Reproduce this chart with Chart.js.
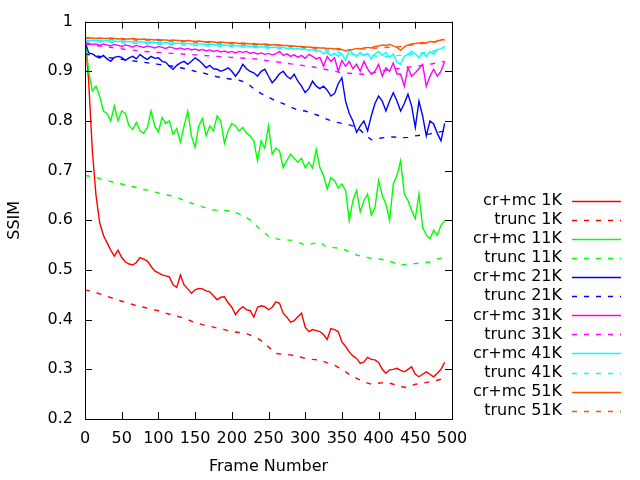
<!DOCTYPE html>
<html>
<head>
<meta charset="utf-8">
<script src="https://cdn.jsdelivr.net/npm/chart.js@4.4.1/dist/chart.umd.min.js"></script>
<style>
  html, body { margin: 0; padding: 0; background: #fff; }
  #wrap { width: 640px; height: 480px; }
</style>
</head>
<body>
<div id="wrap"><canvas id="ssim-chart" width="640" height="480"></canvas></div>
<script>
// frame numbers: cr+mc curves read every 5 frames, trunc curves every 10
const frames = [0,5,10,15,20,25,30,35,40,45,50,55,60,65,70,75,80,85,90,95,100,105,110,115,120,125,130,135,140,145,150,155,160,165,170,175,180,185,190,195,200,205,210,215,220,225,230,235,240,245,250,255,260,265,270,275,280,285,290,295,300,305,310,315,320,325,330,335,340,345,350,355,360,365,370,375,380,385,390,395,400,405,410,415,420,425,430,435,440,445,450,455,460,465,470,475,480,485,490];
const framesTrunc = [0,10,20,30,40,50,60,70,80,90,100,110,120,130,140,150,160,170,180,190,200,210,220,230,240,250,260,270,280,290,300,310,320,330,340,350,360,370,380,390,400,410,420,430,440,450,460,470,480,490];

const crmc1K = [0.97,0.88,0.74,0.65,0.595,0.57,0.555,0.54,0.528,0.54,0.525,0.516,0.512,0.51,0.515,0.525,0.522,0.518,0.507,0.498,0.494,0.49,0.488,0.486,0.47,0.465,0.49,0.47,0.462,0.453,0.46,0.463,0.462,0.458,0.456,0.448,0.44,0.445,0.446,0.434,0.425,0.41,0.42,0.426,0.42,0.418,0.405,0.425,0.428,0.426,0.42,0.425,0.436,0.433,0.413,0.405,0.395,0.398,0.406,0.413,0.385,0.376,0.38,0.378,0.376,0.37,0.36,0.382,0.38,0.376,0.355,0.346,0.335,0.327,0.322,0.312,0.315,0.324,0.32,0.319,0.314,0.3,0.292,0.299,0.3,0.302,0.298,0.295,0.3,0.305,0.29,0.285,0.29,0.295,0.29,0.285,0.292,0.3,0.314];
const trunc1K = [0.46,0.457,0.452,0.447,0.442,0.437,0.433,0.428,0.425,0.421,0.418,0.413,0.409,0.405,0.4,0.394,0.39,0.387,0.383,0.38,0.376,0.374,0.372,0.366,0.358,0.345,0.332,0.33,0.329,0.326,0.322,0.32,0.319,0.313,0.308,0.3,0.29,0.282,0.275,0.27,0.272,0.274,0.27,0.265,0.263,0.27,0.272,0.275,0.278,0.282];

const crmc11K = [0.97,0.9,0.86,0.87,0.85,0.82,0.815,0.8,0.83,0.8,0.82,0.815,0.79,0.783,0.797,0.78,0.775,0.787,0.82,0.79,0.778,0.807,0.795,0.8,0.773,0.785,0.757,0.79,0.82,0.77,0.747,0.79,0.805,0.77,0.79,0.78,0.81,0.8,0.755,0.78,0.795,0.79,0.78,0.787,0.775,0.77,0.76,0.72,0.76,0.745,0.79,0.733,0.745,0.74,0.706,0.72,0.733,0.725,0.717,0.725,0.706,0.717,0.705,0.743,0.706,0.69,0.663,0.686,0.68,0.665,0.673,0.66,0.6,0.64,0.66,0.617,0.64,0.653,0.61,0.625,0.68,0.65,0.633,0.6,0.673,0.69,0.72,0.653,0.64,0.62,0.603,0.653,0.586,0.57,0.563,0.58,0.57,0.59,0.6];
const trunc11K = [0.69,0.688,0.684,0.68,0.676,0.673,0.67,0.666,0.662,0.659,0.655,0.652,0.648,0.643,0.637,0.632,0.627,0.622,0.62,0.62,0.618,0.613,0.606,0.595,0.58,0.568,0.563,0.56,0.56,0.556,0.55,0.553,0.556,0.545,0.545,0.543,0.537,0.53,0.527,0.523,0.522,0.52,0.515,0.51,0.512,0.513,0.515,0.516,0.522,0.526];

const crmc21K = [0.96,0.937,0.935,0.93,0.927,0.932,0.925,0.92,0.928,0.93,0.928,0.922,0.927,0.93,0.925,0.934,0.928,0.924,0.93,0.926,0.927,0.92,0.918,0.91,0.904,0.912,0.917,0.92,0.914,0.92,0.927,0.922,0.915,0.907,0.912,0.905,0.904,0.9,0.903,0.907,0.9,0.89,0.9,0.914,0.905,0.9,0.897,0.89,0.9,0.904,0.89,0.877,0.885,0.895,0.9,0.89,0.885,0.894,0.88,0.87,0.857,0.865,0.88,0.87,0.865,0.87,0.862,0.85,0.855,0.875,0.887,0.84,0.815,0.8,0.777,0.79,0.8,0.78,0.81,0.835,0.85,0.84,0.82,0.84,0.857,0.84,0.82,0.835,0.854,0.83,0.787,0.84,0.81,0.77,0.8,0.794,0.775,0.76,0.795];
const trunc21K = [0.935,0.932,0.93,0.928,0.926,0.924,0.922,0.92,0.918,0.916,0.914,0.912,0.91,0.907,0.904,0.9,0.897,0.893,0.889,0.886,0.884,0.882,0.877,0.865,0.855,0.848,0.84,0.835,0.828,0.822,0.82,0.815,0.81,0.803,0.798,0.795,0.792,0.788,0.775,0.762,0.765,0.767,0.768,0.766,0.767,0.77,0.772,0.774,0.777,0.78];

const crmc31K = [0.958,0.956,0.954,0.955,0.952,0.955,0.953,0.951,0.954,0.952,0.95,0.953,0.951,0.949,0.952,0.95,0.948,0.951,0.949,0.947,0.95,0.948,0.946,0.949,0.947,0.945,0.947,0.944,0.946,0.943,0.945,0.942,0.944,0.941,0.943,0.94,0.942,0.939,0.941,0.938,0.94,0.937,0.94,0.938,0.94,0.936,0.938,0.935,0.937,0.934,0.936,0.933,0.935,0.94,0.932,0.935,0.93,0.933,0.928,0.932,0.926,0.934,0.93,0.925,0.928,0.91,0.93,0.92,0.927,0.9,0.922,0.91,0.92,0.905,0.914,0.9,0.92,0.905,0.894,0.9,0.914,0.89,0.907,0.9,0.917,0.895,0.894,0.87,0.907,0.89,0.897,0.905,0.914,0.87,0.89,0.904,0.89,0.9,0.92];
const trunc31K = [0.955,0.953,0.951,0.949,0.947,0.945,0.943,0.942,0.94,0.939,0.938,0.937,0.936,0.935,0.934,0.933,0.932,0.931,0.93,0.929,0.928,0.927,0.926,0.925,0.923,0.921,0.919,0.917,0.915,0.913,0.911,0.909,0.906,0.903,0.9,0.897,0.896,0.895,0.894,0.896,0.899,0.902,0.904,0.906,0.908,0.91,0.912,0.914,0.917,0.92];

const crmc41K = [0.963,0.962,0.963,0.962,0.962,0.961,0.962,0.961,0.961,0.96,0.961,0.96,0.96,0.959,0.96,0.959,0.959,0.958,0.959,0.958,0.958,0.957,0.958,0.957,0.957,0.956,0.957,0.956,0.956,0.955,0.956,0.955,0.955,0.954,0.955,0.954,0.953,0.954,0.953,0.952,0.953,0.952,0.951,0.952,0.951,0.95,0.951,0.95,0.949,0.95,0.949,0.948,0.949,0.947,0.948,0.946,0.947,0.945,0.946,0.944,0.945,0.942,0.944,0.94,0.942,0.935,0.938,0.932,0.936,0.93,0.935,0.922,0.944,0.935,0.93,0.938,0.932,0.936,0.925,0.935,0.94,0.932,0.938,0.928,0.935,0.918,0.914,0.93,0.934,0.94,0.935,0.927,0.937,0.93,0.94,0.934,0.944,0.945,0.95];
const trunc41K = [0.96,0.96,0.959,0.958,0.958,0.957,0.957,0.956,0.956,0.955,0.955,0.954,0.954,0.953,0.953,0.952,0.952,0.951,0.951,0.95,0.95,0.949,0.949,0.948,0.948,0.947,0.947,0.946,0.946,0.945,0.945,0.944,0.943,0.941,0.939,0.937,0.935,0.934,0.933,0.932,0.93,0.93,0.931,0.932,0.933,0.935,0.937,0.939,0.942,0.945];

const crmc51K = [0.968,0.967,0.967,0.966,0.967,0.966,0.966,0.967,0.966,0.965,0.966,0.965,0.965,0.966,0.965,0.964,0.965,0.964,0.964,0.963,0.964,0.963,0.963,0.962,0.963,0.962,0.962,0.961,0.962,0.961,0.96,0.961,0.96,0.959,0.96,0.959,0.958,0.959,0.958,0.957,0.958,0.957,0.956,0.957,0.956,0.955,0.956,0.955,0.954,0.955,0.954,0.953,0.954,0.953,0.952,0.952,0.951,0.951,0.95,0.95,0.949,0.949,0.948,0.948,0.947,0.947,0.946,0.946,0.945,0.946,0.944,0.941,0.943,0.944,0.946,0.945,0.947,0.948,0.947,0.95,0.951,0.953,0.952,0.954,0.951,0.948,0.942,0.949,0.953,0.955,0.956,0.957,0.958,0.957,0.96,0.959,0.961,0.963,0.964];
const trunc51K = [0.967,0.966,0.966,0.965,0.965,0.964,0.964,0.963,0.963,0.962,0.962,0.961,0.961,0.96,0.96,0.959,0.959,0.958,0.957,0.957,0.956,0.955,0.955,0.954,0.953,0.953,0.952,0.951,0.95,0.949,0.948,0.947,0.946,0.945,0.944,0.943,0.943,0.944,0.945,0.946,0.947,0.948,0.949,0.95,0.952,0.954,0.956,0.958,0.96,0.962];

const seriesNames = ['cr+mc 1K','trunc 1K','cr+mc 11K','trunc 11K','cr+mc 21K','trunc 21K','cr+mc 31K','trunc 31K','cr+mc 41K','trunc 41K','cr+mc 51K','trunc 51K'];
const seriesValues = [crmc1K, trunc1K, crmc11K, trunc11K, crmc21K, trunc21K, crmc31K, trunc31K, crmc41K, trunc41K, crmc51K, trunc51K];
const seriesColors = ['#ff0000','#00ff00','#0000ff','#ff00ff','#00ffff','#ff5500'];
const yTicks = [0.2, 0.3, 0.4, 0.5, 0.6, 0.7, 0.8, 0.9, 1];
const xTicks = [0, 50, 100, 150, 200, 250, 300, 350, 400, 450, 500];

Chart.defaults.font.family = "'DejaVu Sans', sans-serif";
Chart.defaults.font.size = 16;
Chart.defaults.color = '#000';

const datasets = seriesNames.map((name, i) => {
    const isTrunc = i % 2 == 1;
    const xs = isTrunc ? framesTrunc : frames;
    return {
        label: name,
        data: seriesValues[i].map((v, k) => ({x: xs[k], y: v})),
        borderColor: seriesColors[Math.floor(i / 2)],
        backgroundColor: seriesColors[Math.floor(i / 2)],
        borderWidth: 1.4,
        borderDash: isTrunc ? [5, 7] : [],
        pointRadius: 0,
        tension: 0,
        fill: false,
        order: -i
    };
});

// gnuplot look: frame box, inward ticks on all sides, key on the right
const gnuplotFrame = {
    id: 'gnuplotFrame',
    afterDraw(chart) {
        const ctx = chart.ctx;
        const a = chart.chartArea;
        const xs = chart.scales.x, ys = chart.scales.y;
        ctx.save();
        ctx.strokeStyle = '#000';
        ctx.lineWidth = 1;
        ctx.setLineDash([]);
        ctx.beginPath();
        xTicks.forEach(t => {
            const px = Math.round(xs.getPixelForValue(t)) + 0.5;
            ctx.moveTo(px, a.bottom); ctx.lineTo(px, a.bottom - 7);
            ctx.moveTo(px, a.top); ctx.lineTo(px, a.top + 7);
        });
        yTicks.forEach(t => {
            const py = Math.round(ys.getPixelForValue(t)) + 0.5;
            ctx.moveTo(a.left, py); ctx.lineTo(a.left + 7, py);
            ctx.moveTo(a.right, py); ctx.lineTo(a.right - 7, py);
        });
        ctx.stroke();
        ctx.strokeRect(Math.round(a.left) + 0.5, Math.round(a.top) + 0.5, Math.round(a.right - a.left), Math.round(a.bottom - a.top));

        // key
        ctx.font = "16px 'DejaVu Sans'";
        ctx.textAlign = 'right';
        ctx.textBaseline = 'middle';
        chart.data.datasets.forEach((ds, i) => {
            const y = 201 + i * 19.06;
            ctx.fillStyle = '#000';
            ctx.fillText(ds.label, 562, y);
            ctx.strokeStyle = ds.borderColor;
            ctx.lineWidth = 1.4;
            ctx.setLineDash(ds.borderDash);
            ctx.beginPath();
            ctx.moveTo(572, Math.round(y) + 0.5);
            ctx.lineTo(621, Math.round(y) + 0.5);
            ctx.stroke();
        });
        ctx.restore();
    }
};

new Chart(document.getElementById('ssim-chart'), {
    type: 'line',
    data: { datasets: datasets },
    options: {
        responsive: false,
        animation: false,
        layout: { padding: { left: 0, right: 188, top: 20, bottom: 0 } },
        plugins: {
            legend: { display: false },
            tooltip: { enabled: false }
        },
        scales: {
            x: {
                type: 'linear',
                min: 0,
                max: 500,
                afterBuildTicks: s => { s.ticks = xTicks.map(v => ({value: v})); },
                afterFit: s => { s.height = 61; },
                grid: { display: false, drawTicks: false },
                border: { display: false },
                ticks: { padding: 10, maxRotation: 0, autoSkip: false },
                title: { display: true, text: 'Frame Number', padding: { top: 0, bottom: 4 } }
            },
            y: {
                type: 'linear',
                min: 0.2,
                max: 1,
                afterBuildTicks: s => { s.ticks = yTicks.map(v => ({value: v})); },
                afterFit: s => { s.width = 85; },
                grid: { display: false, drawTicks: false },
                border: { display: false },
                ticks: { padding: 12, autoSkip: false, callback: v => String(Math.round(v * 10) / 10) },
                title: { display: true, text: 'SSIM', padding: { top: 5, bottom: 0 } }
            }
        }
    },
    plugins: [gnuplotFrame]
});
</script>
</body>
</html>
